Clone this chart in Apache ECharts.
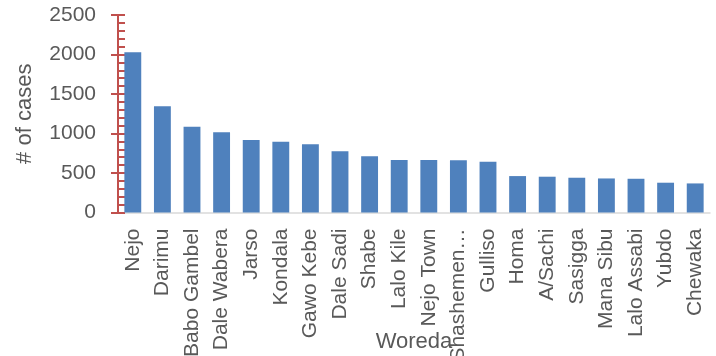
<!DOCTYPE html>
<html>
<head>
<meta charset="utf-8">
<script src="https://cdn.jsdelivr.net/npm/echarts@6/dist/echarts.min.js"></script>
<style>
html,body{margin:0;padding:0;background:#fff;}
#c{width:716px;height:356px;}
</style>
</head>
<body>
<div id="c"></div>
<script>
var categories = ["Nejo","Darimu","Babo Gambel","Dale Wabera","Jarso","Kondala","Gawo Kebe","Dale Sadi","Shabe","Lalo Kile","Nejo Town","Shashemen…","Gulliso","Homa","A/Sachi","Sasigga","Mana Sibu","Lalo Assabi","Yubdo","Chewaka"];
var cases = [2030,1345,1087,1015,918,897,863,774,711,664,664,660,643,461,453,440,431,427,377,368];
var yTicks = [0,500,1000,1500,2000,2500];

var font = "Liberation Sans";
var txt = "#595959";
var red = "#c0504d";
var chart = echarts.init(document.getElementById('c'), null, {renderer:'canvas'});
chart.setOption({
  animation:false,
  grid:{left:118, right:6, top:15, bottom:143.5, containLabel:false, outerBoundsMode:'none'},
  xAxis:{
    type:'category',
    data:categories,
    name:'Woreda',
    nameLocation:'middle',
    nameGap:118,
    nameMoveOverlap:false,
    nameTextStyle:{fontFamily:font,fontSize:22,color:txt},
    axisLine:{lineStyle:{color:'#d9d9d9',width:1.5}},
    axisTick:{show:false},
    axisLabel:{rotate:90,interval:0,margin:16,fontFamily:font,fontSize:21,color:txt}
  },
  yAxis:[{
    type:'value',
    min:yTicks[0], max:yTicks[yTicks.length-1], interval:500,
    name:'# of cases',
    nameLocation:'middle',
    nameGap:82,
    nameMoveOverlap:false,
    nameTextStyle:{fontFamily:font,fontSize:22,color:txt},
    axisLine:{show:true,lineStyle:{color:red,width:2}},
    axisTick:{show:true,inside:true,length:7,lineStyle:{color:red,width:2}},
    minorTick:{show:true,splitNumber:5,length:7,lineStyle:{color:red,width:2}},
    splitLine:{show:false},
    axisLabel:{margin:22,fontFamily:font,fontSize:21,color:txt,formatter:function(v){return String(v);}}
  },{
    type:'value',
    position:'left',
    min:yTicks[0], max:yTicks[yTicks.length-1], interval:500,
    axisLine:{show:false},
    axisTick:{show:true,inside:false,length:7,lineStyle:{color:red,width:2}},
    splitLine:{show:false},
    axisLabel:{show:false}
  }],
  series:[{
    type:'bar',
    data:cases,
    yAxisIndex:0,
    barWidth:'57%',
    itemStyle:{color:'#4f81bd'}
  }]
});
</script>
</body>
</html>
